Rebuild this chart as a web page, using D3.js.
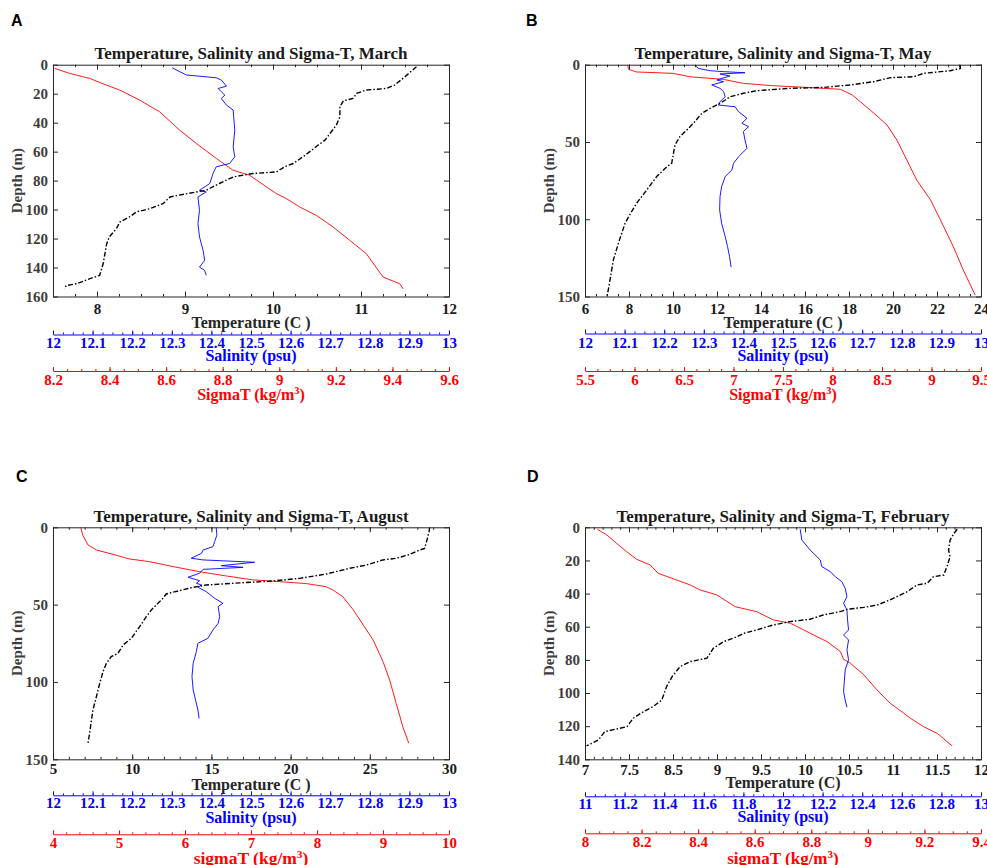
<!DOCTYPE html>
<html><head><meta charset="utf-8">
<script src="https://cdn.jsdelivr.net/npm/d3@7"></script>
<style>body{margin:0;background:#fff} svg{display:block}</style>
</head><body><svg id="c" width="987" height="865"></svg>
<script>
// ---------------- DATA: [depth (m), value] ----------------
// A: March
const marchTemperature = [[1.4,11.63],[8.3,11.50],[14.1,11.38],[16.4,11.29],[17.5,11.06],[19.8,10.95],[23.3,10.91],[24.9,10.80],[29,10.76],[36,10.76],[41.7,10.72],[52.1,10.59],[55.6,10.51],[59,10.44],[63.6,10.34],[68.2,10.23],[70.5,10.13],[74,10.04],[75.1,9.77],[77.4,9.55],[82,9.39],[86.7,9.24],[89,9.02],[91.3,8.83],[95.9,8.75],[99.4,8.60],[101.6,8.45],[105,8.37],[108.6,8.26],[113.2,8.22],[118.9,8.14],[123.6,8.11],[130.5,8.09],[137.4,8.07],[145.4,8.03],[147.7,7.92],[151.2,7.77],[152.4,7.65],[154.7,7.63]];
const marchSalinity = [[2.1,12.301],[4.8,12.320],[7.1,12.337],[9,12.412],[10.6,12.425],[14.8,12.438],[16.4,12.417],[18.7,12.425],[21,12.434],[23.3,12.425],[27.9,12.438],[31.3,12.455],[45.2,12.459],[56.7,12.455],[63.6,12.459],[68.2,12.446],[70.5,12.412],[75.1,12.404],[82,12.396],[86.7,12.370],[87.8,12.387],[91.3,12.366],[100.5,12.370],[109.7,12.366],[118.9,12.370],[128.2,12.379],[135,12.383],[139.7,12.370],[142,12.383],[145.4,12.387]];
const marchSigmaT = [[2.5,8.206],[6,8.259],[9.5,8.330],[14.1,8.389],[17.5,8.436],[24.4,8.506],[32.5,8.577],[45.2,8.648],[54.4,8.707],[64.8,8.778],[72.8,8.836],[76.3,8.895],[84.4,8.955],[89,8.99],[92.4,9.025],[98.2,9.072],[104,9.131],[112,9.19],[121.2,9.249],[130.5,9.308],[146.6,9.367],[151.2,9.426],[154.7,9.438]];
// B: May
const mayTemperature = [[0,23.06],[2.4,23.06],[3.9,22.6],[5.6,21.39],[7.8,20.94],[8.4,19.88],[11,19.12],[13.1,18.06],[14.7,16.84],[15.3,15.33],[16.8,13.81],[18.5,13.20],[20.7,12.60],[25,12.14],[28.2,11.69],[31.5,11.31],[37.9,10.93],[42.2,10.63],[46.5,10.32],[51.9,10.09],[63.8,9.94],[66,9.72],[72.4,9.26],[81,8.81],[89.6,8.35],[95,8.12],[102.6,7.82],[115.5,7.52],[126.3,7.29],[145.7,7.06],[150,6.99]];
const maySalinity = [[0,12.278],[2.4,12.286],[3.9,12.316],[4.5,12.350],[5.2,12.404],[6,12.341],[7.3,12.366],[9.9,12.333],[11,12.350],[13.1,12.320],[15.3,12.341],[17.5,12.350],[20.7,12.354],[23.9,12.341],[26.1,12.337],[27.2,12.379],[30.4,12.388],[34.7,12.409],[37.9,12.396],[40.1,12.413],[43.3,12.400],[48.7,12.404],[54.1,12.409],[59.5,12.388],[63.8,12.375],[68.1,12.371],[72.4,12.354],[78.9,12.345],[85.3,12.341],[94,12.340],[102.6,12.345],[111.2,12.354],[117.7,12.360],[124.1,12.365],[131,12.369]];
const maySigmaT = [[0,5.93],[3,5.94],[4.7,6.02],[5.6,6.39],[7.8,6.56],[9.5,6.90],[12.1,7.10],[13.6,7.40],[14.7,7.74],[15.9,8.08],[19.6,8.20],[23.9,8.28],[31.5,8.42],[39,8.55],[48.7,8.65],[61.6,8.75],[74.6,8.85],[87.5,8.99],[100.4,9.09],[117.7,9.22],[132.7,9.32],[148.9,9.44]];
// C: August
const augustTemperature = [[0,28.78],[2.8,28.74],[8.2,28.61],[13.6,28.46],[14.7,28.15],[17.9,27.41],[20,26.67],[21.1,25.83],[24.4,24.78],[26.5,23.73],[30.2,22.26],[33,20.57],[34.7,18.89],[36.2,16.36],[37.3,14.68],[38.8,13.84],[40.9,13.00],[43.1,12.15],[45.9,11.94],[50.2,11.52],[53.4,11.21],[57.8,10.89],[64.2,10.47],[71.8,9.95],[76.1,9.42],[81.5,9.10],[83.6,8.68],[87.9,8.37],[93.3,8.16],[100.9,7.95],[109.5,7.74],[118.1,7.52],[133.2,7.31],[139.6,7.21]];
const augustSalinity = [[0,12.412],[5,12.414],[9.3,12.408],[12.5,12.404],[14.7,12.379],[16.8,12.375],[19.4,12.354],[20,12.349],[21.1,12.379],[22.6,12.509],[24.8,12.425],[25.9,12.480],[27.2,12.379],[29.7,12.370],[32.3,12.341],[34.5,12.370],[36.2,12.362],[37.3,12.375],[38.8,12.366],[41.6,12.387],[45.9,12.408],[49.1,12.429],[51.3,12.417],[57.8,12.421],[62.1,12.417],[66.4,12.404],[71.8,12.391],[75,12.366],[80.4,12.362],[87.9,12.354],[96.5,12.351],[105.2,12.354],[111.6,12.360],[118.1,12.366],[123.5,12.369]];
const augustSigmaT = [[0,4.42],[5,4.45],[11.4,4.53],[14.7,4.66],[17.5,4.91],[20.5,5.16],[22.2,5.46],[25.4,5.82],[28.7,6.22],[31.5,6.63],[34,7.03],[35.3,7.49],[36.4,7.84],[38.4,8.14],[40.5,8.24],[44.8,8.39],[53.4,8.55],[63.1,8.70],[72.8,8.85],[86.8,9.00],[98.7,9.10],[113.8,9.20],[128.9,9.30],[139.6,9.39]];
// D: February
const februaryTemperature = [[1.2,11.70],[3.6,11.66],[7.6,11.61],[13.7,11.59],[17.7,11.61],[23.7,11.57],[28.8,11.53],[29.8,11.40],[33.8,11.32],[34.8,11.19],[38.8,11.07],[43.8,10.85],[46.9,10.69],[48.3,10.52],[49.5,10.31],[50.9,10.22],[52.9,10.01],[55.5,9.84],[56.9,9.59],[58.9,9.38],[61.9,9.17],[64,9.00],[66,8.92],[69,8.75],[73,8.62],[79,8.54],[81,8.33],[84.1,8.20],[90.1,8.10],[96.1,8.03],[104.2,7.97],[108.2,7.86],[111.2,7.74],[115.2,7.61],[120.3,7.53],[123.3,7.25],[128.3,7.17],[131.9,7.02]];
const februarySalinity = [[1.2,12.087],[7.6,12.095],[13.7,12.137],[19.7,12.188],[23.7,12.196],[26.7,12.238],[29.8,12.264],[32.8,12.297],[36.8,12.314],[41.8,12.323],[45.9,12.306],[49.9,12.323],[55.9,12.326],[61.9,12.331],[65,12.306],[68,12.331],[74,12.323],[80,12.331],[86.1,12.314],[94.1,12.309],[99.1,12.306],[104.2,12.314],[108.6,12.323]];
const februarySigmaT = [[1.2,8.044],[4.6,8.077],[9.7,8.112],[14.7,8.147],[19.3,8.183],[22.7,8.230],[27.8,8.259],[31.8,8.324],[34.8,8.372],[37.8,8.407],[40.8,8.466],[47.9,8.531],[50.9,8.607],[55.9,8.666],[57.9,8.726],[61.9,8.773],[66,8.820],[69,8.856],[75,8.903],[79.6,8.914],[82,8.938],[89.1,8.986],[98.1,9.032],[106.2,9.079],[112.2,9.127],[115.2,9.150],[120.3,9.197],[124.3,9.245],[131.9,9.298]];

// ---------------- TICKS ----------------
const marchDepthTicks = [0,20,40,60,80,100,120,140,160];
const mayDepthTicks = [0,50,100,150];
const augustDepthTicks = [0,50,100,150];
const februaryDepthTicks = [0,20,40,60,80,100,120,140];
const marchTempTicks = [8,9,10,11,12];
const mayTempTicks = [6,8,10,12,14,16,18,20,22,24];
const augustTempTicks = [5,10,15,20,25,30];
const februaryTempTickLabels = ["7","7.5","8.5","9","9.5","10","10.5","11","11.5","12"];
const salinityTicks = [12,12.1,12.2,12.3,12.4,12.5,12.6,12.7,12.8,12.9,13];
const februarySalinityTicks = [11,11.2,11.4,11.6,11.8,12,12.2,12.4,12.6,12.8,13];
const marchSigmaTicks = [8.2,8.4,8.6,8.8,9,9.2,9.4,9.6];
const maySigmaTicks = [5.5,6,6.5,7,7.5,8,8.5,9,9.5];
const augustSigmaTicks = [4,5,6,7,8,9,10];
const februarySigmaTicks = [8,8.2,8.4,8.6,8.8,9,9.2,9.4];
const panelLetters = ["A","B","C","D"];
const monthNames = ["March","May","August","February"];

// ---------------- LAYOUT ----------------
const panels = [
  {temp:marchTemperature, sal:marchSalinity, sig:marchSigmaT, tDom:[7.5,12], tTicks:marchTempTicks, tMinor:0.25,
   dMax:160, dTicks:marchDepthTicks, sDom:[12,13], sTicks:salinityTicks, sMinor:0.025,
   gDom:[8.2,9.6], gTicks:marchSigmaTicks, gMinor:0.05, gTitle:"SigmaT (kg/m", gTitleSize:16, tTitle:"Temperature (C )",
   box:{l:53,r:449,t:64.7,b:296.5}, letter:[11,26], off:{tl:17,tt:31,sl:38,slb:51,st:64,gl:74.5,glb:88,gt:103}},
  {temp:mayTemperature, sal:maySalinity, sig:maySigmaT, tDom:[6,24], tTicks:mayTempTicks, tMinor:0.5,
   dMax:150, dTicks:mayDepthTicks, sDom:[12,13], sTicks:salinityTicks, sMinor:0.025,
   gDom:[5.5,9.5], gTicks:maySigmaTicks, gMinor:0.125, gTitle:"SigmaT (kg/m", gTitleSize:16, tTitle:"Temperature (C )",
   box:{l:585,r:981,t:64.7,b:296.5}, letter:[526,26], off:{tl:17,tt:31,sl:37,slb:51,st:64,gl:74.5,glb:88,gt:103}},
  {temp:augustTemperature, sal:augustSalinity, sig:augustSigmaT, tDom:[5,30], tTicks:augustTempTicks, tMinor:1,
   dMax:150, dTicks:augustDepthTicks, sDom:[12,13], sTicks:salinityTicks, sMinor:0.025,
   gDom:[4,10], gTicks:augustSigmaTicks, gMinor:0.2, gTitle:"sigmaT (kg/m", gTitleSize:17.5, tTitle:"Temperature (C )",
   box:{l:53,r:449,t:527.3,b:759.3}, letter:[16,482], off:{tl:14.5,tt:31,sl:36,slb:49,st:64,gl:75,glb:89,gt:105}},
  {temp:februaryTemperature, sal:februarySalinity, sig:februarySigmaT, tDom:[7,12], tLabels:februaryTempTickLabels,
   dMax:140, dTicks:februaryDepthTicks, sDom:[11,13], sTicks:februarySalinityTicks, sMinor:0.05,
   gDom:[8,9.4], gTicks:februarySigmaTicks, gMinor:0.05, gTitle:"sigmaT (kg/m", gTitleSize:17, tTitle:"Temperature (C)",
   box:{l:585,r:981,t:527.3,b:759.3}, letter:[527,482], off:{tl:16,tt:29,sl:37,slb:50,st:63,gl:74,glb:88,gt:105}}
];

const svg = d3.select("#c");
const SERIF = "'Liberation Serif','Times New Roman',serif";
const AX = "#262626";
const TICKFS = 15, TITLEFS = 17, LABFS = 16;
const fmt = v => String(+(+v).toFixed(3));
function steps(a, b, s) { const n = Math.round((b - a) / s); return d3.range(n + 1).map(i => +(a + i * s).toFixed(6)); }
function styleAxis(g, color, size) {
  g.attr("font-family", SERIF).attr("font-size", size).attr("font-weight", "bold").attr("color", color);
}

panels.forEach((p, i) => {
  const {l, r, t, b} = p.box;
  const g = svg.append("g");
  const y = d3.scaleLinear().domain([0, p.dMax]).range([t, b]);
  const xT = d3.scaleLinear().domain(p.tDom).range([l, r]);
  const xS = d3.scaleLinear().domain(p.sDom).range([l, r]);
  const xG = d3.scaleLinear().domain(p.gDom).range([l, r]);

  // panel letter
  g.append("text").attr("x", p.letter[0]).attr("y", p.letter[1]).text(panelLetters[i])
    .attr("font-family", "'Liberation Sans',Arial,sans-serif").attr("font-weight", "bold").attr("font-size", 16).attr("fill", "#000");
  // title
  g.append("text").attr("x", (l + r) / 2).attr("y", t - 5.5).attr("text-anchor", "middle")
    .attr("font-family", SERIF).attr("font-weight", "bold").attr("font-size", TITLEFS).attr("fill", "#1a1a1a")
    .text("Temperature, Salinity and Sigma-T, " + monthNames[i]);

  // temperature axis tick scale
  let ts, tv, tm, tf;
  if (p.tLabels) {
    ts = d3.scaleLinear().domain([0, p.tLabels.length - 1]).range([l, r]);
    tv = d3.range(p.tLabels.length); tm = steps(0, p.tLabels.length - 1, 0.2); tf = k => p.tLabels[k];
  } else {
    ts = xT; tv = p.tTicks; tm = steps(p.tDom[0], p.tDom[1], p.tMinor); tf = fmt;
  }
  const rm = s => s.select(".domain").remove();
  g.append("g").attr("transform", `translate(0,${b})`).call(d3.axisBottom(ts).tickValues(tm).tickSize(-2.5).tickFormat("")).call(rm).attr("color", AX);
  g.append("g").attr("transform", `translate(0,${t})`).call(d3.axisTop(ts).tickValues(tm).tickSize(-2.5).tickFormat("")).call(rm).attr("color", AX);
  g.append("g").attr("transform", `translate(0,${t})`).call(d3.axisTop(ts).tickValues(tv).tickSize(-5).tickFormat("")).call(rm).attr("color", AX);
  const bx = g.append("g").attr("transform", `translate(0,${b})`)
    .call(d3.axisBottom(ts).tickValues(tv).tickSize(-5).tickFormat(tf)).call(rm);
  styleAxis(bx, AX, TICKFS);
  bx.selectAll("text").attr("y", p.off.tl).attr("dy", 0).attr("fill", "#1a1a1a");
  g.append("text").attr("x", (l + r) / 2).attr("y", b + p.off.tt).attr("text-anchor", "middle")
    .attr("font-family", SERIF).attr("font-weight", "bold").attr("font-size", LABFS).attr("fill", "#262626").text(p.tTitle);

  // depth axes
  const ly = g.append("g").attr("transform", `translate(${l},0)`)
    .call(d3.axisLeft(y).tickValues(p.dTicks).tickSize(-5).tickFormat(fmt)).call(rm);
  styleAxis(ly, AX, TICKFS);
  ly.selectAll("text").attr("x", -5).attr("fill", "#3d3d3d");
  g.append("g").attr("transform", `translate(${r},0)`)
    .call(d3.axisRight(y).tickValues(p.dTicks).tickSize(-5).tickFormat("")).call(rm).attr("color", AX);
  g.append("text").attr("transform", `translate(${l - 31.5},${(t + b) / 2}) rotate(-90)`).attr("text-anchor", "middle")
    .attr("font-family", SERIF).attr("font-weight", "bold").attr("font-size", 15).attr("fill", "#3d3d3d").text("Depth (m)");

  // frame
  g.append("rect").attr("x", l + 0.5).attr("y", t + 0.5).attr("width", r - l).attr("height", b - t)
    .attr("fill", "none").attr("stroke", AX).attr("stroke-width", 1);

  // salinity axis
  const sy = b + p.off.sl;
  g.append("g").attr("transform", `translate(0,${sy})`)
    .call(d3.axisBottom(xS).tickValues(steps(p.sDom[0], p.sDom[1], p.sMinor)).tickSize(-2).tickFormat("")).call(rm).attr("color", "#0000ff");
  const sa = g.append("g").attr("transform", `translate(0,${sy})`)
    .call(d3.axisBottom(xS).tickValues(p.sTicks).tickSizeInner(-4).tickSizeOuter(0).tickFormat(fmt));
  styleAxis(sa, "#0000ff", TICKFS);
  sa.selectAll("text").attr("y", p.off.slb - p.off.sl).attr("dy", 0);
  g.append("text").attr("x", (l + r) / 2).attr("y", b + p.off.st).attr("text-anchor", "middle")
    .attr("font-family", SERIF).attr("font-weight", "bold").attr("font-size", LABFS).attr("fill", "#0000ff").text("Salinity (psu)");

  // sigma-T axis
  const gy = b + p.off.gl;
  g.append("g").attr("transform", `translate(0,${gy})`)
    .call(d3.axisBottom(xG).tickValues(steps(p.gDom[0], p.gDom[1], p.gMinor)).tickSize(-2).tickFormat("")).call(rm).attr("color", "#ff0000");
  const ga = g.append("g").attr("transform", `translate(0,${gy})`)
    .call(d3.axisBottom(xG).tickValues(p.gTicks).tickSizeInner(-4).tickSizeOuter(0).tickFormat(fmt));
  styleAxis(ga, "#ff0000", TICKFS);
  ga.selectAll("text").attr("y", p.off.glb - p.off.gl).attr("dy", 0);
  const gt = g.append("text").attr("x", (l + r) / 2).attr("y", b + p.off.gt).attr("text-anchor", "middle")
    .attr("font-family", SERIF).attr("font-weight", "bold").attr("font-size", p.gTitleSize).attr("fill", "#ff0000");
  gt.append("tspan").text(p.gTitle);
  gt.append("tspan").attr("dy", -6).attr("font-size", p.gTitleSize * 0.65).text("3");
  gt.append("tspan").attr("dy", 6).text(")");

  // curves
  const clipId = "clip" + i;
  svg.append("clipPath").attr("id", clipId).append("rect").attr("x", l).attr("y", t).attr("width", r - l).attr("height", b - t);
  const cg = g.append("g").attr("clip-path", `url(#${clipId})`);
  const lineOf = xs => d3.line().x(d => xs(d[1])).y(d => y(d[0]));
  cg.append("path").datum(p.sig).attr("d", lineOf(xG)).attr("fill", "none").attr("stroke", "#ff0000").attr("stroke-width", 0.9);
  cg.append("path").datum(p.sal).attr("d", lineOf(xS)).attr("fill", "none").attr("stroke", "#0000ff").attr("stroke-width", 0.9);
  cg.append("path").datum(p.temp).attr("d", lineOf(xT)).attr("fill", "none").attr("stroke", "#000")
    .attr("stroke-width", 1.4).attr("stroke-dasharray", "5,2,1.5,2");
});
</script></body></html>
